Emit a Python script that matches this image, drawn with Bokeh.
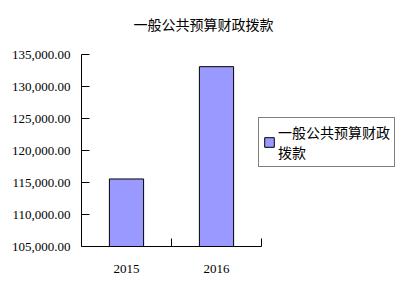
from bokeh.plotting import figure
from bokeh.models import Range1d, FixedTicker, Legend, LegendItem, Title, NumeralTickFormatter
from bokeh.embed import file_html
from bokeh.resources import INLINE
import numpy as np

title_text = "一般公共预算财政拨款"
years = ["2015", "2016"]
values = [115550, 133100]
series_name = "一般公共预算财政\n拨款"
y_ticks = [105000, 110000, 115000, 120000, 125000, 130000, 135000]

n = len(years)
centers = np.arange(n) + 0.5
bounds = list(np.arange(1, n + 1).astype(float))

# frame spans 81..397 px; categories occupy the first 180 px
x_end = n * 316 / 180

p = figure(width=401, height=285, output_backend="svg", toolbar_location=None,
           x_range=Range1d(0, x_end), y_range=Range1d(y_ticks[0], y_ticks[-1]),
           min_border_left=81, min_border_right=4, min_border_top=54, min_border_bottom=39)
p.outline_line_color = None
p.xgrid.visible = False
p.ygrid.visible = False
p.background_fill_color = "white"
p.border_fill_color = "white"

r = p.vbar(x=centers, top=values, bottom=y_ticks[0], width=0.38,
           fill_color="#9999FF", line_color="black", line_width=1)

# x axis
p.xaxis.bounds = (0, n)
p.xaxis.ticker = FixedTicker(ticks=list(centers), minor_ticks=bounds)
p.xaxis.major_label_overrides = {float(c): y for c, y in zip(centers, years)}
p.xaxis.major_tick_line_color = None
p.xaxis.minor_tick_in = 8
p.xaxis.minor_tick_out = 0
p.xaxis.minor_tick_line_color = "black"
p.xaxis.axis_line_color = "black"
p.xaxis.major_label_text_font = "Liberation Serif"
p.xaxis.major_label_text_font_size = "13px"
p.xaxis.major_label_text_color = "black"
p.xaxis.major_label_standoff = 12

# y axis
p.yaxis.ticker = FixedTicker(ticks=y_ticks)
p.yaxis.formatter = NumeralTickFormatter(format="0,0.00")
p.yaxis.major_tick_in = 8
p.yaxis.major_tick_out = 0
p.yaxis.minor_tick_line_color = None
p.yaxis.major_tick_line_color = "black"
p.yaxis.axis_line_color = "black"
p.yaxis.major_label_text_font = "Liberation Serif"
p.yaxis.major_label_text_font_size = "13px"
p.yaxis.major_label_text_color = "black"
p.yaxis.major_label_standoff = 11

# spacer between frame and title
spacer = Title(text=" ", text_font_size="1px", standoff=18)
p.add_layout(spacer, "above")

t = Title(text=title_text, align="left", text_font="Noto Sans CJK SC",
          text_font_size="14px", text_font_style="normal", text_color="black",
          offset=52, standoff=0)
p.add_layout(t, "above")

legend = Legend(items=[LegendItem(label=series_name, renderers=[r])],
                location=(177, 79), border_line_color="black", border_line_width=1,
                label_text_font="Noto Sans CJK SC", label_text_font_size="14px",
                label_text_color="black", label_text_line_height=0.9,
                glyph_width=12, glyph_height=12,
                padding=4, margin=0, spacing=0, label_standoff=3,
                background_fill_alpha=1)
p.add_layout(legend, "center")

open("out.html", "w").write(file_html(p, INLINE))
